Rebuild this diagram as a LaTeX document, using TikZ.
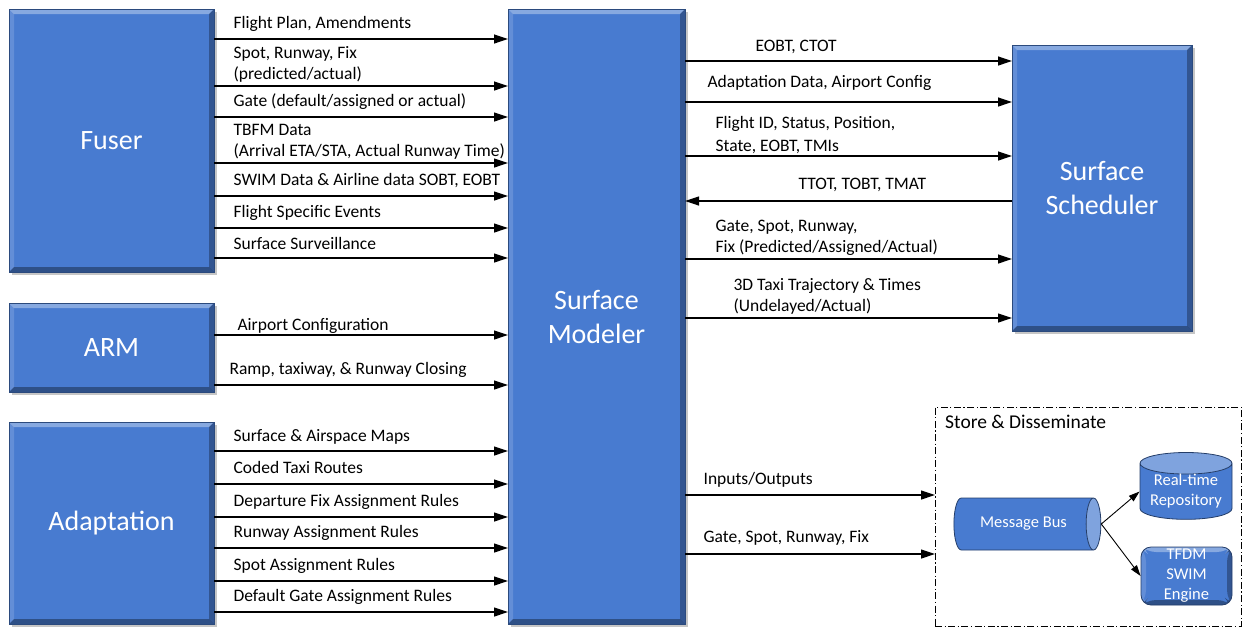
\documentclass[tikz,border=0pt]{standalone}
\usepackage{fontspec}
\setmainfont{Carlito}
\usetikzlibrary{arrows.meta,positioning,shapes.geometric,shadows}
\definecolor{boxblue}{RGB}{72,123,208}

\begin{document}
\begin{tikzpicture}[x=1pt, y=-1pt]
    \tikzset{bevel/.style={path picture={
        \fill[white, opacity=0.35] (path picture bounding box.north west) -- (path picture bounding box.north east) -- ([shift={(-5pt,-5pt)}]path picture bounding box.north east) -- ([shift={(5pt,-5pt)}]path picture bounding box.north west) -- cycle;
        \fill[white, opacity=0.15] (path picture bounding box.north west) -- (path picture bounding box.south west) -- ([shift={(5pt,5pt)}]path picture bounding box.south west) -- ([shift={(5pt,-5pt)}]path picture bounding box.north west) -- cycle;
        \fill[black, opacity=0.3] (path picture bounding box.north east) -- (path picture bounding box.south east) -- ([shift={(-5pt,5pt)}]path picture bounding box.south east) -- ([shift={(-5pt,-5pt)}]path picture bounding box.north east) -- cycle;
        \fill[black, opacity=0.35] (path picture bounding box.south west) -- (path picture bounding box.south east) -- ([shift={(-5pt,5pt)}]path picture bounding box.south east) -- ([shift={(5pt,5pt)}]path picture bounding box.south west) -- cycle;}}}
    \tikzset{blk/.style={rectangle, draw=boxblue!60!black, line width=0.5pt, fill=boxblue, bevel, text=white, align=center, inner sep=0pt, outer sep=0pt, font=\fontsize{28}{34}\selectfont, drop shadow={shadow xshift=2.5pt, shadow yshift=-2.5pt, opacity=0.45}}}
    \tikzset{arr/.style={-{Triangle[length=14pt, width=9pt]}, line width=1.2pt}}
    \tikzset{lbl/.style={anchor=south west, inner sep=0pt, text depth=0pt, align=left, font=\fontsize{17.5}{21}\selectfont}}
    \tikzset{small/.style={text=white, align=center, inner sep=0pt, font=\fontsize{16.5}{20}\selectfont}}
    \tikzset{drum/.style={cylinder, cylinder uses custom fill, cylinder body fill=boxblue, cylinder end fill=boxblue!70!white, draw=boxblue!50!black, line width=0.8pt, small}}

    \useasboundingbox (0,0) rectangle (1243,627);

    \node [blk, minimum width=205pt, minimum height=263pt] (fuser) at (111.5,140.5) {Fuser};
    \node [blk, minimum width=205pt, minimum height=89pt] (arm) at (111.5,347.5) {ARM};
    \node [blk, minimum width=205pt, minimum height=202pt] (adapt) at (111.5,523) {Adaptation};
    \node [blk, minimum width=177pt, minimum height=615pt] (modeler) at (596.5,316.5) {Surface\\Modeler};
    \node [blk, minimum width=180pt, minimum height=286pt] (sched) at (1102,188) {Surface\\Scheduler};

    % Fuser inputs
    \draw [arr] (fuser.east |- 0,39) -- node [lbl, pos=0, xshift=19pt, yshift=9.5pt] (tplan) {Flight Plan, Amendments} (modeler.west |- 0,39);
    \draw [arr] (fuser.east |- 0,86) -- node [lbl, pos=0, xshift=19pt, yshift=5.5pt] (tspot) {Spot, Runway, Fix\\(predicted/actual)} (modeler.west |- 0,86);
    \draw [arr] (fuser.east |- 0,117) -- node [lbl, pos=0, xshift=19pt, yshift=9.5pt] (tgate) {Gate (default/assigned or actual)} (modeler.west |- 0,117);
    \draw [arr] (fuser.east |- 0,163) -- node [lbl, pos=0, xshift=19pt, yshift=5.5pt] (ttbfm) {TBFM Data\\(Arrival ETA/STA, Actual Runway Time)} (modeler.west |- 0,163);
    \draw [arr] (fuser.east |- 0,196) -- node [lbl, pos=0, xshift=19pt, yshift=10pt] (tswim) {SWIM Data \& Airline data SOBT, EOBT} (modeler.west |- 0,196);
    \draw [arr] (fuser.east |- 0,228) -- node [lbl, pos=0, xshift=19pt, yshift=10pt] (tevents) {Flight Specific Events} (modeler.west |- 0,228);
    \draw [arr] (fuser.east |- 0,258) -- node [lbl, pos=0, xshift=19pt, yshift=7.5pt] (tsurv) {Surface Surveillance} (modeler.west |- 0,258);

    % ARM inputs
    \draw [arr] (arm.east |- 0,335) -- node [lbl, pos=0, xshift=23pt, yshift=3.5pt] (tconfig) {Airport Configuration} (modeler.west |- 0,335);
    \draw [arr] (arm.east |- 0,385) -- node [lbl, pos=0, xshift=15pt, yshift=9.5pt] (tramp) {Ramp, taxiway, \& Runway Closing} (modeler.west |- 0,385);

    % Adaptation inputs
    \draw [arr] (adapt.east |- 0,451) -- node [lbl, pos=0, xshift=19pt, yshift=8.5pt] (tmaps) {Surface \& Airspace Maps} (modeler.west |- 0,451);
    \draw [arr] (adapt.east |- 0,484) -- node [lbl, pos=0, xshift=19pt, yshift=10pt] (troutes) {Coded Taxi Routes} (modeler.west |- 0,484);
    \draw [arr] (adapt.east |- 0,517) -- node [lbl, pos=0, xshift=19pt, yshift=10pt] (tfixrule) {Departure Fix Assignment Rules} (modeler.west |- 0,517);
    \draw [arr] (adapt.east |- 0,548) -- node [lbl, pos=0, xshift=19pt, yshift=9.5pt] (trwyrule) {Runway Assignment Rules} (modeler.west |- 0,548);
    \draw [arr] (adapt.east |- 0,581) -- node [lbl, pos=0, xshift=19pt, yshift=9.5pt] (tspotrule) {Spot Assignment Rules} (modeler.west |- 0,581);
    \draw [arr] (adapt.east |- 0,612) -- node [lbl, pos=0, xshift=19pt, yshift=9.5pt] (tgaterule) {Default Gate Assignment Rules} (modeler.west |- 0,612);

    % Modeler <-> Scheduler
    \draw [arr] (modeler.east |- 0,61) -- node [lbl, pos=0, xshift=70pt, yshift=8.5pt] (teobt) {EOBT, CTOT} (sched.west |- 0,61);
    \draw [arr] (modeler.east |- 0,102) -- node [lbl, pos=0, xshift=22pt, yshift=13.5pt] (tadata) {Adaptation Data, Airport Config} (sched.west |- 0,102);
    \draw [arr] (modeler.east |- 0,156) -- node [lbl, pos=0, xshift=30pt, yshift=3.5pt, font=\fontsize{17.5}{23}\selectfont] (tflight) {Flight ID, Status, Position,\\State, EOBT, TMIs} (sched.west |- 0,156);
    \draw [arr] (sched.west |- 0,201) -- node [lbl, pos=1, xshift=113pt, yshift=10.5pt] (ttimes) {TTOT, TOBT, TMAT} (modeler.east |- 0,201);
    \draw [arr] (modeler.east |- 0,259) -- node [lbl, pos=0, xshift=30pt, yshift=5.5pt] (tassign) {Gate, Spot, Runway,\\Fix (Predicted/Assigned/Actual)} (sched.west |- 0,259);
    \draw [arr] (modeler.east |- 0,318) -- node [lbl, pos=0, xshift=48pt, yshift=5.5pt] (ttraj) {3D Taxi Trajectory \& Times\\(Undelayed/Actual)} (sched.west |- 0,318);

    % Store & Disseminate
    \node [draw, dash pattern=on 7pt off 2.5pt on 1.2pt off 2.5pt, line width=0.7pt, minimum width=306pt, minimum height=219pt, inner sep=0pt, outer sep=0pt] (store) at (1088,516.5) {};
    \node [anchor=north west, inner sep=0pt, font=\fontsize{19.5}{23}\selectfont] (tstore) at ([shift={(10pt,-8pt)}]store.north west) {Store \& Disseminate};
    \node [drum, aspect=1.1, minimum width=52pt, minimum height=147pt] (bus) at (1023.5,524) {Message Bus};
    \node [drum, shape border rotate=90, aspect=0.3, minimum width=92pt, minimum height=63pt] (repo) at (1186,491.5) {Real-time\\Repository};
    \node [rectangle, rounded corners=10pt, fill=boxblue, draw=boxblue!50!black, line width=0.8pt, bevel, small, minimum width=91pt, minimum height=58pt] (engine) at (1186.5,576) {TFDM\\SWIM\\Engine};
    \draw [-{Triangle[length=11pt, width=7pt]}, line width=0.9pt] (bus.east) -- (repo.west);
    \draw [-{Triangle[length=11pt, width=7pt]}, line width=0.9pt] (bus.east) -- (engine.west);

    \draw [arr] (modeler.east |- 0,495) -- node [lbl, pos=0, xshift=18pt, yshift=9.5pt] (tio) {Inputs/Outputs} (store.west |- 0,495);
    \draw [arr] (modeler.east |- 0,554) -- node [lbl, pos=0, xshift=18pt, yshift=10.5pt] (tgsrf) {Gate, Spot, Runway, Fix} (store.west |- 0,554);
\end{tikzpicture}
\end{document}
